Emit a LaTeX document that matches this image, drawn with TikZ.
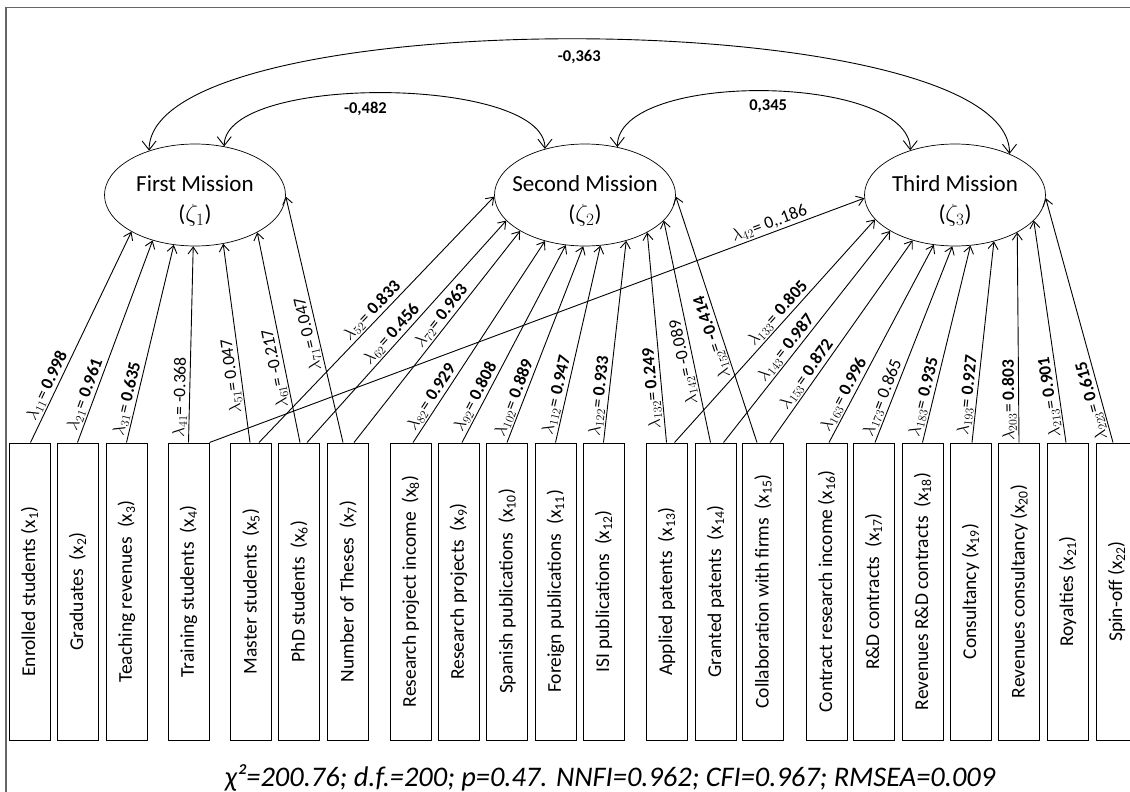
\documentclass[tikz,border=0pt]{standalone}
\usepackage{fontspec}
\setmainfont{Carlito}
\usepackage{graphicx}
\usetikzlibrary{shapes.geometric,arrows.meta}

\begin{document}
\begin{tikzpicture}[x=1pt,y=-1pt,
    mission/.style={draw,ellipse,line width=0.7pt,minimum width=181pt,minimum height=102pt,inner xsep=-15pt,inner ysep=0pt,text height=58pt,text depth=5pt,align=center,font=\fontsize{23}{30}\selectfont},
    indicator/.style={draw,line width=1pt,minimum width=41pt,minimum height=297pt,inner sep=0pt,font=\fontsize{19.5}{22}\selectfont},
    load/.style={-{Straight Barb[length=7pt,width=10pt]},line width=0.9pt},
    corr/.style={{Straight Barb[length=9pt,width=14pt]}-{Straight Barb[length=9pt,width=14pt]},line width=0.9pt},
    lam/.style={sloped,allow upside down,above,inner sep=1.5pt,font=\fontsize{17.5}{19}\selectfont},
    coef/.style={font=\fontsize{16.5}{18}\selectfont\bfseries}]
    \useasboundingbox (0,0) rectangle (1130,792);
    \draw[black!60,line width=1.3pt] (6,7.5) rectangle (1140,800);

    % latent variables
    \node[mission] (first) at (195,195) {First Mission\\($\zeta_1$)};
    \node[mission] (second) at (585,195) {Second Mission\\($\zeta_2$)};
    \node[mission] (third) at (955,195) {Third Mission\\($\zeta_3$)};

    % indicators
    \foreach \n/\xx/\txt in {1/29.5/{Enrolled students (x\textsubscript{1})},
        2/77.5/{Graduates~ (x\textsubscript{2})},
        3/126.5/{Teaching revenues~ (x\textsubscript{3})},
        4/188.5/{Training students~ (x\textsubscript{4})},
        5/251/{Master students~ (x\textsubscript{5})},
        6/299/{PhD students~ (x\textsubscript{6})},
        7/348/{Number of Theses~ (x\textsubscript{7})},
        8/410.5/{Research project income~ (x\textsubscript{8})},
        9/458.5/{Research projects~ (x\textsubscript{9})},
        10/507/{Spanish publications~ (x\textsubscript{10})},
        11/555.5/{Foreign publications~ (x\textsubscript{11})},
        12/603.5/{ISI publications~ (x\textsubscript{12})},
        13/666.5/{Applied patents~ (x\textsubscript{13})},
        14/715.5/{Granted patents~ (x\textsubscript{14})},
        15/763/{Collaboration with firms~ (x\textsubscript{15})},
        16/826.5/{Contract research income (x\textsubscript{16})},
        17/873.5/{R\&D contracts~ (x\textsubscript{17})},
        18/922.5/{Revenues R\&D contracts~ (x\textsubscript{18})},
        19/970.5/{Consultancy (x\textsubscript{19})},
        20/1019/{Revenues consultancy (x\textsubscript{20})},
        21/1067.5/{Royalties (x\textsubscript{21})},
        22/1116.5/{Spin-off (x\textsubscript{22})}}
        \node[indicator] (x\n) at (\xx,591.5) {\rotatebox{90}{\txt}};

    % First Mission
    \foreach \b/\dx/\ang/\p/\lab in {1/1/210/0.25/{$\lambda_{11}$= \textbf{0.998}},
        2/0/227/0.22/{$\lambda_{21}$= \textbf{0.961}},
        3/0/247/0.21/{$\lambda_{31}$= \textbf{0.635}},
        4/0/268/0.23/{$\lambda_{41}$= -0.368},
        5/-1/300/0.34/{$\lambda_{51}$= 0.047},
        6/1/329/0.36/{$\lambda_{61}$= -0.217},
        7/-5/359/0.45/{$\lambda_{71}$= 0.047}}
        \draw[load] ([xshift=\dx pt]x\b.north) -- (first.\ang) node[lam,pos=\p] {\lab};

    % Second Mission
    \foreach \b/\dx/\ang/\p/\lab in {5/8/181/0.51/{$\lambda_{52}$= \textbf{0.833}},
        6/8/198/0.46/{$\lambda_{62}$= \textbf{0.456}},
        7/6/209/0.57/{$\lambda_{72}$= \textbf{0.963}},
        8/2.5/229/0.2/{$\lambda_{82}$= \textbf{0.929}},
        9/3.5/249/0.21/{$\lambda_{92}$= \textbf{0.808}},
        10/0/268/0.21/{$\lambda_{102}$= \textbf{0.889}},
        11/0/287/0.23/{$\lambda_{112}$= \textbf{0.947}},
        12/0/312/0.225/{$\lambda_{122}$= \textbf{0.933}},
        13/0/329/0.26/{$\lambda_{132}$= \textbf{0.249}},
        14/-5/342/0.37/{$\lambda_{142}$= -0.089},
        15/-6/359/0.44/{$\lambda_{152}$= \textbf{-0.414}}}
        \draw[load] ([xshift=\dx pt]x\b.north) -- (second.\ang) node[lam,pos=\p] {\lab};

    % Third Mission
    \foreach \b/\dx/\ang/\p/\lab in {13/8/197/0.55/{$\lambda_{133}$= \textbf{0.805}},
        14/8/209/0.42/{$\lambda_{143}$= \textbf{0.987}},
        15/7/227/0.31/{$\lambda_{153}$= \textbf{0.872}},
        16/2.5/247/0.22/{$\lambda_{163}$= \textbf{0.996}},
        17/1.5/267/0.21/{$\lambda_{173}$= 0.865},
        18/0/287/0.22/{$\lambda_{183}$= \textbf{0.935}},
        19/1.5/310/0.23/{$\lambda_{193}$= \textbf{0.927}},
        20/0/329/0.2/{$\lambda_{203}$= \textbf{0.803}},
        21/-1.5/342/0.21/{$\lambda_{213}$= \textbf{0.901}},
        22/-3.5/358/0.18/{$\lambda_{223}$= \textbf{0.615}}}
        \draw[load] ([xshift=\dx pt]x\b.north) -- (third.\ang) node[lam,pos=\p] {\lab};
    \draw[load] (x4.north east) -- (third.182) node[lam,pos=0.86] {$\lambda_{42}$= 0,.186};

    % correlations
    \draw[corr] (first.136) .. controls +(0,-151) and +(0,-151) .. (third.37) node[coef,pos=0.5,below=7pt] {-0,363};
    \draw[corr] (first.59) .. controls +(0,-73) and +(0,-73) .. (second.131) node[coef,pos=0.46,below=5pt] {-0,482};
    \draw[corr] (second.56) .. controls +(0,-77) and +(0,-77) .. (third.135) node[coef,pos=0.51,below=5pt] {0,345};

    % fit indices
    \node[font=\fontsize{28.4}{33}\selectfont\itshape] (fit) at (610,778) {χ²=200.76; d.f.=200; p=0.47. NNFI=0.962; CFI=0.967; RMSEA=0.009};
\end{tikzpicture}
\end{document}
